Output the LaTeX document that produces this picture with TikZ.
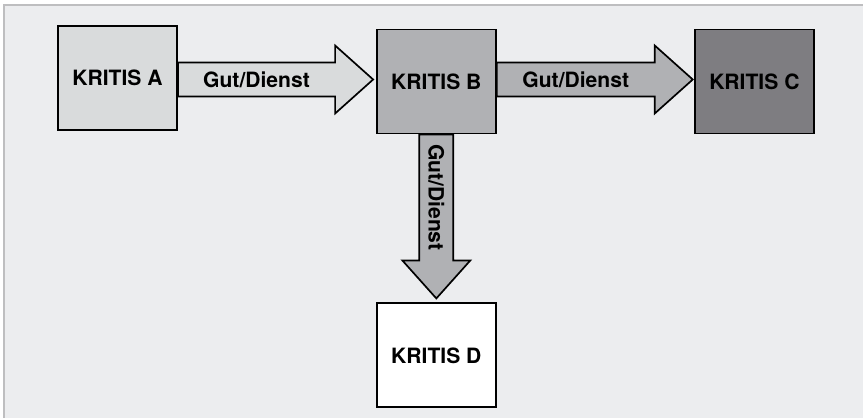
\documentclass[tikz,border=0pt]{standalone}
\usepackage{fontspec}
\setmainfont{TeX Gyre Heros}
\definecolor{panelgray}{RGB}{236,237,239}
\definecolor{framegray}{RGB}{190,190,192}
\definecolor{lightgray}{RGB}{217,219,220}
\definecolor{midgray}{RGB}{176,177,180}
\definecolor{darkgray}{RGB}{126,125,129}
\usepackage{tikz}
\usetikzlibrary{positioning, calc}
\tikzset{
  kritis/.style={rectangle, draw=black, line width=1.3pt, text=black,
    font=\fontsize{15}{18}\selectfont\bfseries,
    minimum width=2.975cm, minimum height=2.6cm, align=center},
  blockarrow/.style={draw=black, line width=1.2pt, line join=miter},
  flowlabel/.style={font=\fontsize{15}{18}\selectfont\bfseries, text=black, inner sep=0pt},
}
% fat arrow: #1 fill, #2 start, #3 tip, #4 label options
\newcommand{\fatarrow}[5]{%
  \coordinate (fa-h) at ($(#3)!0.95cm!(#2)$);
  \draw[blockarrow, fill=#1]
    ($(#2)!0.425cm!90:(#3)$) -- ($(fa-h)!0.425cm!90:(#3)$) --
    ($(fa-h)!0.85cm!90:(#3)$) -- (#3) --
    ($(fa-h)!0.85cm!-90:(#3)$) -- ($(fa-h)!0.425cm!-90:(#3)$) --
    ($(#2)!0.425cm!-90:(#3)$) -- cycle;
  \node[flowlabel, #4] at ($(#2)!0.5!(fa-h)$) {#5};
}

\begin{document}
\begin{tikzpicture}
  \useasboundingbox (0,0) rectangle (21.575,-10.45);
  % panel
  \fill[panelgray] (0.1,-0.125) rectangle (21.575,-10.45);
  \draw[framegray, line width=0.8pt] (0.1,-10.45) -- (0.1,-0.125) -- (21.575,-0.125);

  \node[kritis, fill=lightgray] (a) at (2.9375,-1.95) {KRITIS A};
  \node[kritis, fill=midgray, right=4.95cm of a, yshift=-0.0875cm] (b) {KRITIS B};
  \node[kritis, fill=darkgray, right=4.93cm of b] (c) {KRITIS C};
  \node[kritis, fill=white, below=4.2cm of b] (d) {KRITIS D};

  \coordinate (tipab) at ($(b.west)+(-0.07,0.05)$);
  \coordinate (tipbc) at ($(c.west)+(-0.03,0.05)$);
  \coordinate (tipbd) at ($(d.north)+(0,0.1)$);

  \fatarrow{lightgray}{a.east |- tipab}{tipab}{}{Gut/Dienst}
  \fatarrow{midgray}{b.east |- tipbc}{tipbc}{}{Gut/Dienst}
  \fatarrow{midgray}{b.south}{tipbd}{rotate=-90}{Gut/Dienst}
\end{tikzpicture}
\end{document}
